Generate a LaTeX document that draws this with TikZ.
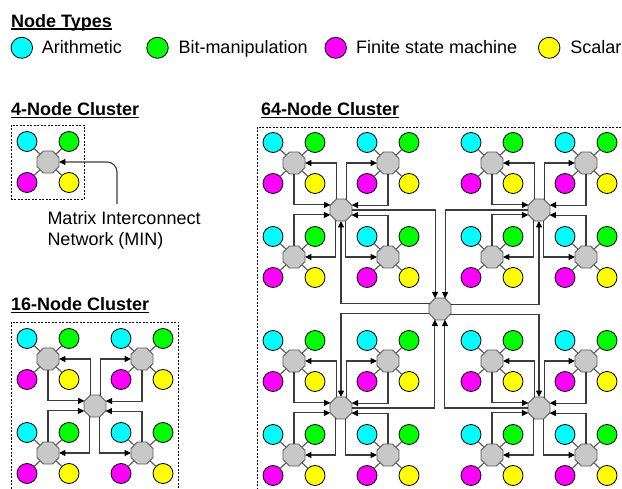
\documentclass[tikz,border=0pt]{standalone}
\usepackage{fontspec}
\setmainfont{Liberation Sans}
\usetikzlibrary{shapes.geometric,arrows.meta}
\definecolor{cA}{RGB}{0,255,255}
\definecolor{cB}{RGB}{0,255,0}
\definecolor{cF}{RGB}{255,0,255}
\definecolor{cS}{RGB}{255,255,0}
\definecolor{octfill}{RGB}{200,200,200}
\definecolor{octline}{RGB}{90,90,90}
\definecolor{wire}{RGB}{60,60,60}
\newsavebox\ulbox
\newcommand\myul[1]{\sbox\ulbox{#1}\rlap{\rule[-2.4pt]{\wd\ulbox}{1.4pt}}\usebox\ulbox}
\tikzset{
 pe/.style={circle, draw=black, line width=0.8, minimum size=20, inner sep=0, outer sep=0},
 oct/.style={regular polygon, regular polygon sides=8, minimum size=23.8, inner sep=0, outer sep=0, fill=octfill, draw=octline, line width=0.9},
 spoke/.style={draw=octline, line width=1.1},
 arr/.style={draw=wire, line width=1.1, -{Triangle[length=6.5,width=6,color=black]}},
 legendmark/.style={ellipse, draw=black, line width=0.8, minimum width=21.5, minimum height=21, inner sep=0},
 txt/.style={font=\fontsize{18}{21.6}\selectfont, inner sep=0, anchor=base west},
 head/.style={font=\fontsize{18}{21.6}\selectfont\bfseries, inner sep=0, anchor=base west},
 cluster/.style={draw=black, dash pattern=on 2 off 1.5, line width=0.8},
}
% a 4-node cluster: name, x, y
\newcommand\pquad[3]{%
 \node[oct] (#1) at (#2,#3) {};
 \node[pe, fill=cA] (#1a) at (#2-21,#3-20.5) {};
 \node[pe, fill=cB] (#1b) at (#2+21,#3-20.5) {};
 \node[pe, fill=cF] (#1f) at (#2-21,#3+20.5) {};
 \node[pe, fill=cS] (#1s) at (#2+21,#3+20.5) {};
 \draw[spoke] (#1) -- (#1a);
 \draw[spoke] (#1) -- (#1b);
 \draw[spoke] (#1) -- (#1f);
 \draw[spoke] (#1) -- (#1s);
}
% a 16-node cluster: name, x, y
\newcommand\pgroup[3]{%
 \node[oct] (#1) at (#2,#3) {};
 \pquad{#1q1}{#2-47}{#3-47}
 \pquad{#1q2}{#2+47}{#3-47}
 \pquad{#1q3}{#2-47}{#3+47}
 \pquad{#1q4}{#2+47}{#3+47}
 \draw[arr] (#1.115.3) |- (#1q1.east);
 \draw[arr] (#1.64.7) |- (#1q2.west);
 \draw[arr] (#1.244.7) |- (#1q3.east);
 \draw[arr] (#1.295.3) |- (#1q4.west);
 \draw[arr] (#1q1.south) |- (#1.154.7);
 \draw[arr] (#1q2.south) |- (#1.25.3);
 \draw[arr] (#1q3.north) |- (#1.205.3);
 \draw[arr] (#1q4.north) |- (#1.334.7);
}
\begin{document}
\begin{tikzpicture}[x=1pt,y=-1pt]
\useasboundingbox (0,0) rectangle (622,489);
\clip (0,0) rectangle (622,489);
\fill[white] (0,0) rectangle (622,489);
% legend
\node[head] (ht) at (11,27.3) {\myul{Node Types}};
\node[legendmark, fill=cA] (la) at (21.8,47.8) {};
\node[txt] (lta) at (41.7,53.5) {Arithmetic};
\node[legendmark, fill=cB] (lb) at (157.5,47.8) {};
\node[txt] (ltb) at (178.3,53.5) {Bit-manipulation};
\node[legendmark, fill=cF] (lf) at (335.7,47.8) {};
\node[txt] (ltf) at (356,53.5) {Finite state machine};
\node[legendmark, fill=cS] (ls) at (549.2,47.8) {};
\node[txt] (lts) at (570.2,53.5) {Scalar};
% 4-node cluster
\node[head] (h4) at (11,116) {\myul{4-Node Cluster}};
\draw[cluster] (11,125) rectangle (84,199);
\pquad{f}{48}{162}
\coordinate (mstart) at (117,204);
\draw[arr, rounded corners=10] (mstart) |- (f.east);
\node[txt] (m1) at (47.3,224.3) {Matrix Interconnect};
\node[txt] (m2) at (47.3,246) {Network (MIN)};
% 16-node cluster
\node[head] (h16) at (11,311) {\myul{16-Node Cluster}};
\draw[cluster] (11,322) rectangle (178,500);
\pgroup{s}{95}{406}
% 64-node cluster
\node[head] (h64) at (261,116) {\myul{64-Node Cluster}};
\draw[cluster] (257,127) rectangle (640,500);
\pgroup{ga}{341}{210}
\pgroup{gb}{539}{210}
\pgroup{gc}{341}{408}
\pgroup{gd}{539}{408}
\node[oct] (G) at (440,309) {};
\draw[arr] (ga.east) -| (G.115.3);
\draw[arr] (gb.west) -| (G.64.7);
\draw[arr] (gc.east) -| (G.244.7);
\draw[arr] (gd.west) -| (G.295.3);
\draw[arr] (G.154.7) -| (ga.south);
\draw[arr] (G.25.3) -| (gb.south);
\draw[arr] (G.205.3) -| (gc.north);
\draw[arr] (G.334.7) -| (gd.north);
\end{tikzpicture}
\end{document}
